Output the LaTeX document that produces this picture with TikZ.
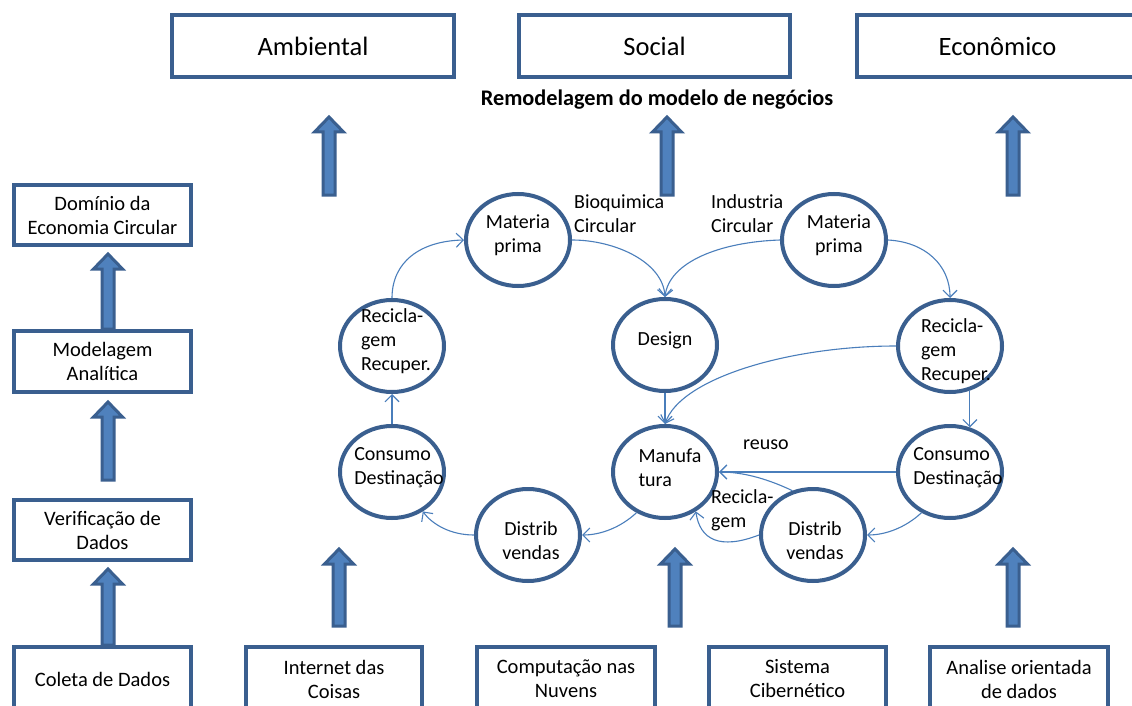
\documentclass[tikz,border=0pt]{standalone}
\usepackage{fontspec}
\setmainfont{Carlito}
\usetikzlibrary{shapes.geometric,arrows.meta}
\definecolor{boxblue}{HTML}{3A5F8F}
\definecolor{fillblue}{HTML}{4F81BD}
\definecolor{linkblue}{HTML}{4A7EBB}
\newcommand\blkup[3]{%
  \draw[blockarrow] (#1-6,#3) -- (#1-6,#2+15) -- (#1-14.5,#2+15) -- (#1,#2) -- (#1+14.5,#2+15) -- (#1+6,#2+15) -- (#1+6,#3) -- cycle;}
\begin{document}
\begin{tikzpicture}[x=1pt,y=-1pt,
  box/.style={draw=boxblue,line width=3.8pt,fill=white,inner sep=0pt,align=center,font=\fontsize{20.5}{24}\selectfont},
  bigbox/.style={box,font=\fontsize{26.5}{30}\selectfont},
  circ/.style={ellipse,draw=boxblue,line width=4pt,minimum width=104pt,minimum height=92pt,inner sep=0pt},
  ctext/.style={font=\fontsize{20}{24}\selectfont,inner sep=0pt,label distance=0pt},
  link/.style={draw=linkblue,line width=1.1pt,-{Straight Barb[length=7pt,width=14pt]}},
  lbl/.style={font=\fontsize{20}{24}\selectfont,align=left,inner sep=0pt},
  blockarrow/.style={draw=boxblue,fill=fillblue,line width=3pt},
]
\clip (0,0) rectangle (1132,706);
\fill[white] (0,0) rectangle (1132,706);

% top boxes
\node[bigbox,minimum width=282pt,minimum height=62pt] (amb) at (313,46) {Ambiental};
\node[bigbox,minimum width=271pt,minimum height=62pt] (soc) at (654.5,46) {Social};
\node[bigbox,minimum width=281pt,minimum height=62pt] (eco) at (997.5,46) {Econômico};
\node[font=\fontsize{22.3}{26}\selectfont\bfseries,inner sep=0pt] (title) at (657,100) {Remodelagem do modelo de negócios};

% left column
\node[box,minimum width=177pt,minimum height=60pt] (dom) at (102.5,215) {Domínio da\\Economia Circular};
\node[box,minimum width=177pt,minimum height=61pt] (mod) at (102.5,361.5) {Modelagem\\Analítica};
\node[box,minimum width=177pt,minimum height=60pt] (ver) at (102.5,530) {Verificação de\\Dados};
\node[box,minimum width=177pt,minimum height=64pt] (col) at (102.5,679) {Coleta de Dados};

% bottom boxes
\node[box,minimum width=176pt,minimum height=64pt] (iot) at (334,679) {Internet das\\Coisas};
\node[box,minimum width=178pt,minimum height=64pt] (cloud) at (566,679) {Computação nas\\Nuvens};
\node[box,minimum width=177pt,minimum height=64pt] (cps) at (797.5,679) {Sistema\\Cibernético};
\node[box,minimum width=178pt,minimum height=64pt] (ana) at (1019,679) {Analise orientada\\de dados};

% block arrows
\blkup{329}{117}{195}
\blkup{667}{117}{195}
\blkup{1013}{117}{195}
\blkup{108}{254}{329}
\blkup{108}{402}{480}
\blkup{108}{569}{645}
\blkup{339}{549}{626}
\blkup{675}{549}{626}
\blkup{1013}{549}{626}

% circles
\node[circ,label={[ctext,align=center,xshift=0pt,yshift=5pt]center:{Materia\\prima}}] (ML) at (518,240) {};
\node[circ,label={[ctext,align=left,xshift=4pt,yshift=5pt]center:{Recicla-\\gem\\Recuper.}}] (RL) at (392,346) {};
\node[circ,label={[ctext,align=center,yshift=5pt]center:{Design}}] (DS) at (665,345) {};
\node[circ,label={[ctext,align=left,xshift=7pt,yshift=4pt]center:{Consumo\\Destinação}}] (CL) at (392,472) {};
\node[circ,label={[ctext,align=center,xshift=3pt,yshift=-6pt]center:{Distrib\\vendas}}] (DL) at (528,535) {};
\node[circ,label={[ctext,align=left,xshift=5pt,yshift=4pt]center:{Manufa\\tura}}] (MF) at (665,472) {};
\node[circ,label={[ctext,align=center,xshift=5pt,yshift=5pt]center:{Materia\\prima}}] (MR) at (834,240) {};
\node[circ,label={[ctext,align=left,xshift=6pt,yshift=-5pt]center:{Recicla-\\gem\\Recuper.}}] (RR) at (950,346) {};
\node[circ,label={[ctext,align=left,xshift=8pt,yshift=4pt]center:{Consumo\\Destinação}}] (CR) at (950,472) {};
\node[circ,label={[ctext,align=center,xshift=2pt,yshift=-6pt]center:{Distrib\\vendas}}] (DR) at (813,535) {};

% labels
\node[lbl,anchor=west] (bio) at (574,214) {Bioquimica\\Circular};
\node[lbl,anchor=west] (ind) at (711,214) {Industria\\Circular};
\node[lbl,anchor=west] (reuso) at (743,445) {reuso};
\node[lbl,anchor=west] (recg) at (711,510) {Recicla-\\gem};

% connectors
\draw[link] (RL.north) .. controls (392,262) and (420,241) .. (ML.west);
\draw[link] (ML.east) .. controls (615,240) and (663,262) .. (DS.north);
\draw[link] (MR.west) .. controls (720,242) and (669,262) .. (DS.north);
\draw[link] (DS.south) -- (MF.north);
\draw[link] (RR.west) .. controls (790,346) and (680,378) .. (MF.north);
\draw[link] (MR.east) .. controls (925,242) and (950,265) .. (RR.north);
\draw[link] (RR.-66) -- (CR.66);
\draw[link] (CR.-125) .. controls (905,528) and (885,535) .. (DR.east);
\draw[link] (CR.west) -- (MF.east);
\draw[link] (DR.115) .. controls (770,480) and (745,472) .. (MF.east);
\draw[link] (DR.west) .. controls (720,550) and (700,540) .. (MF.-52);
\draw[link] (MF.-125) .. controls (620,528) and (600,535) .. (DL.east);
\draw[link] (DL.west) .. controls (450,535) and (432,524) .. (CL.-52);
\draw[link] (CL.north) -- (RL.south);
\end{tikzpicture}
\end{document}
